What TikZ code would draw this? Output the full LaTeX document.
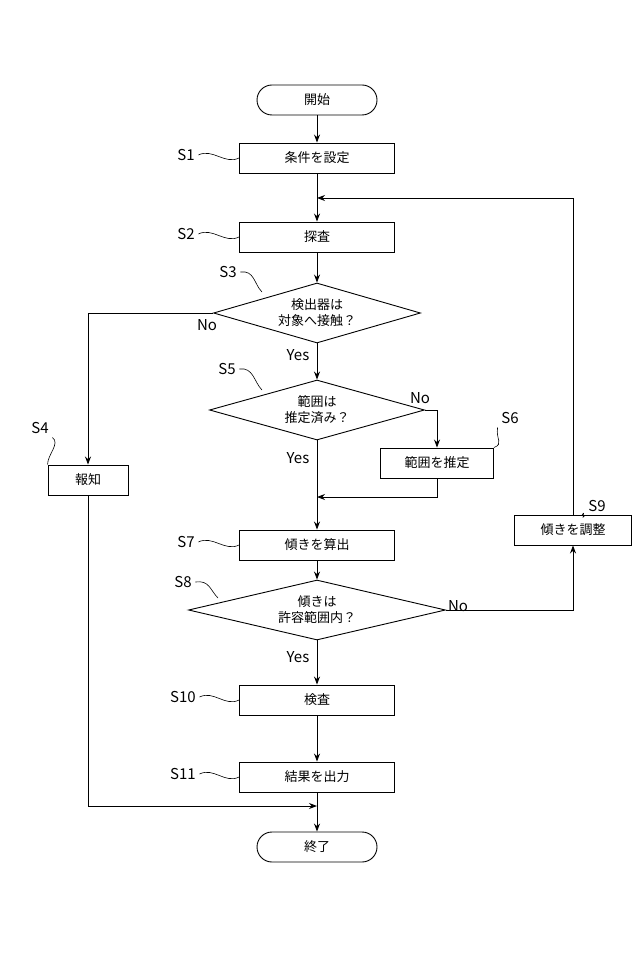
\documentclass[tikz,border=0pt]{standalone}
\usepackage{fontspec}
\setmainfont{Noto Sans CJK JP}
\usetikzlibrary{shapes.geometric,arrows.meta}
\begin{document}
\begin{tikzpicture}[x=1pt,y=-1pt,line width=0.9pt,
  box/.style={draw,minimum width=155pt,minimum height=30pt,font=\fontsize{13}{15}\selectfont,inner sep=0pt},
  term/.style={draw,rounded corners=15pt,minimum width=120pt,minimum height=30pt,font=\fontsize{13}{15}\selectfont},
  dia/.style={draw,diamond,aspect=3.6,inner sep=0pt,font=\fontsize{13}{16}\selectfont,align=center},
  lab/.style={font=\fontsize{15}{17}\selectfont},
  arr/.style={-{Stealth[length=8pt,width=6pt]}},
  lead/.style={line width=0.6pt}]
\useasboundingbox (0,0) rectangle (640,965);
\node[term] (st) at (317,100) {開始};
\node[box] (b1) at (317,158) {条件を設定};
\node[box] (b2) at (317,237) {探査};
\node[dia,minimum width=207pt,minimum height=60pt] (d3) at (317,313) {検出器は\\対象へ接触？};
\node[dia,minimum width=215pt,minimum height=60pt] (d5) at (317,410) {範囲は\\推定済み？};
\node[box,minimum width=113pt] (b6) at (437,463) {範囲を推定};
\node[box] (b7) at (317,545) {傾きを算出};
\node[dia,minimum width=257pt,minimum height=60pt] (d8) at (317,610) {傾きは\\許容範囲内？};
\node[box,minimum width=117pt] (b9) at (573,530) {傾きを調整};
\node[box] (b10) at (317,700) {検査};
\node[box] (b11) at (317,777) {結果を出力};
\node[term] (en) at (317,847) {終了};
\node[box,minimum width=80pt] (b4) at (88,480) {報知};
\coordinate (c3) at (88,313);
\coordinate (c5) at (437,410);
\coordinate (m6) at (437,497);
\coordinate (j6) at (317,497);
\coordinate (c8) at (573,610);
\coordinate (t9) at (573,198);
\coordinate (j9) at (317,198);
\coordinate (c4) at (88,806);
\coordinate (j4) at (317,806);
\draw[arr] (st) -- (b1);
\draw[arr] (b1) -- (b2);
\draw[arr] (b2) -- (d3);
\draw[arr] (d3) -- (d5);
\draw[arr] (d5) -- (b7);
\draw[arr] (b7) -- (d8);
\draw[arr] (d8) -- (b10);
\draw[arr] (b10) -- (b11);
\draw[arr] (b11) -- (en);
\draw[arr] (d3.west) -- (c3) -- (b4);
\draw[arr] (d5.east) -- (c5) -- (b6);
\draw[arr] (b6) -- (m6) -- (j6);
\draw[arr] (d8.east) -- (c8) -- (b9);
\draw[arr] (b9) -- (t9) -- (j9);
\draw[arr] (b4) -- (c4) -- (j4);
\node[lab] at (207,325) {No};
\node[lab] at (298,355) {Yes};
\node[lab] at (420,398) {No};
\node[lab] at (298,458) {Yes};
\node[lab] at (458,606) {No};
\node[lab] at (298,657) {Yes};
\node[lab] (s1) at (186,155) {S1};
\node[lab] (s2) at (186,234) {S2};
\node[lab] (s3) at (228,272) {S3};
\node[lab] (s5) at (227,369) {S5};
\node[lab] (s6) at (510,418) {S6};
\node[lab] (s4) at (40,428) {S4};
\node[lab] (s7) at (186,542) {S7};
\node[lab] (s8) at (183,582) {S8};
\node[lab] (s9) at (597,506) {S9};
\node[lab] (s10) at (183,697) {S10};
\node[lab] (s11) at (183,774) {S11};
\foreach \s/\b in {s1/b1,s2/b2,s7/b7,s10/b10,s11/b11}
  \draw[lead] (\s.east) .. controls +(14,-7) and +(-14,7) .. (\b.west);
\draw[lead] (s3.east) .. controls +(14,-2) and +(-8,-8) .. (262,292);
\draw[lead] (s5.east) .. controls +(14,-2) and +(-8,-8) .. (262,390);
\draw[lead] (s8.east) .. controls +(14,-2) and +(-8,-8) .. (218,598);
\draw[lead] (s6.south west) .. controls +(-2,12) and +(10,-4) .. (b6.north east);
\draw[lead] (s4.south east) .. controls +(8,6) and +(0,-10) .. (b4.north west);
\draw[lead] (s9.south west) .. controls +(-4,6) and +(4,-6) .. (582,515);
\end{tikzpicture}
\end{document}
